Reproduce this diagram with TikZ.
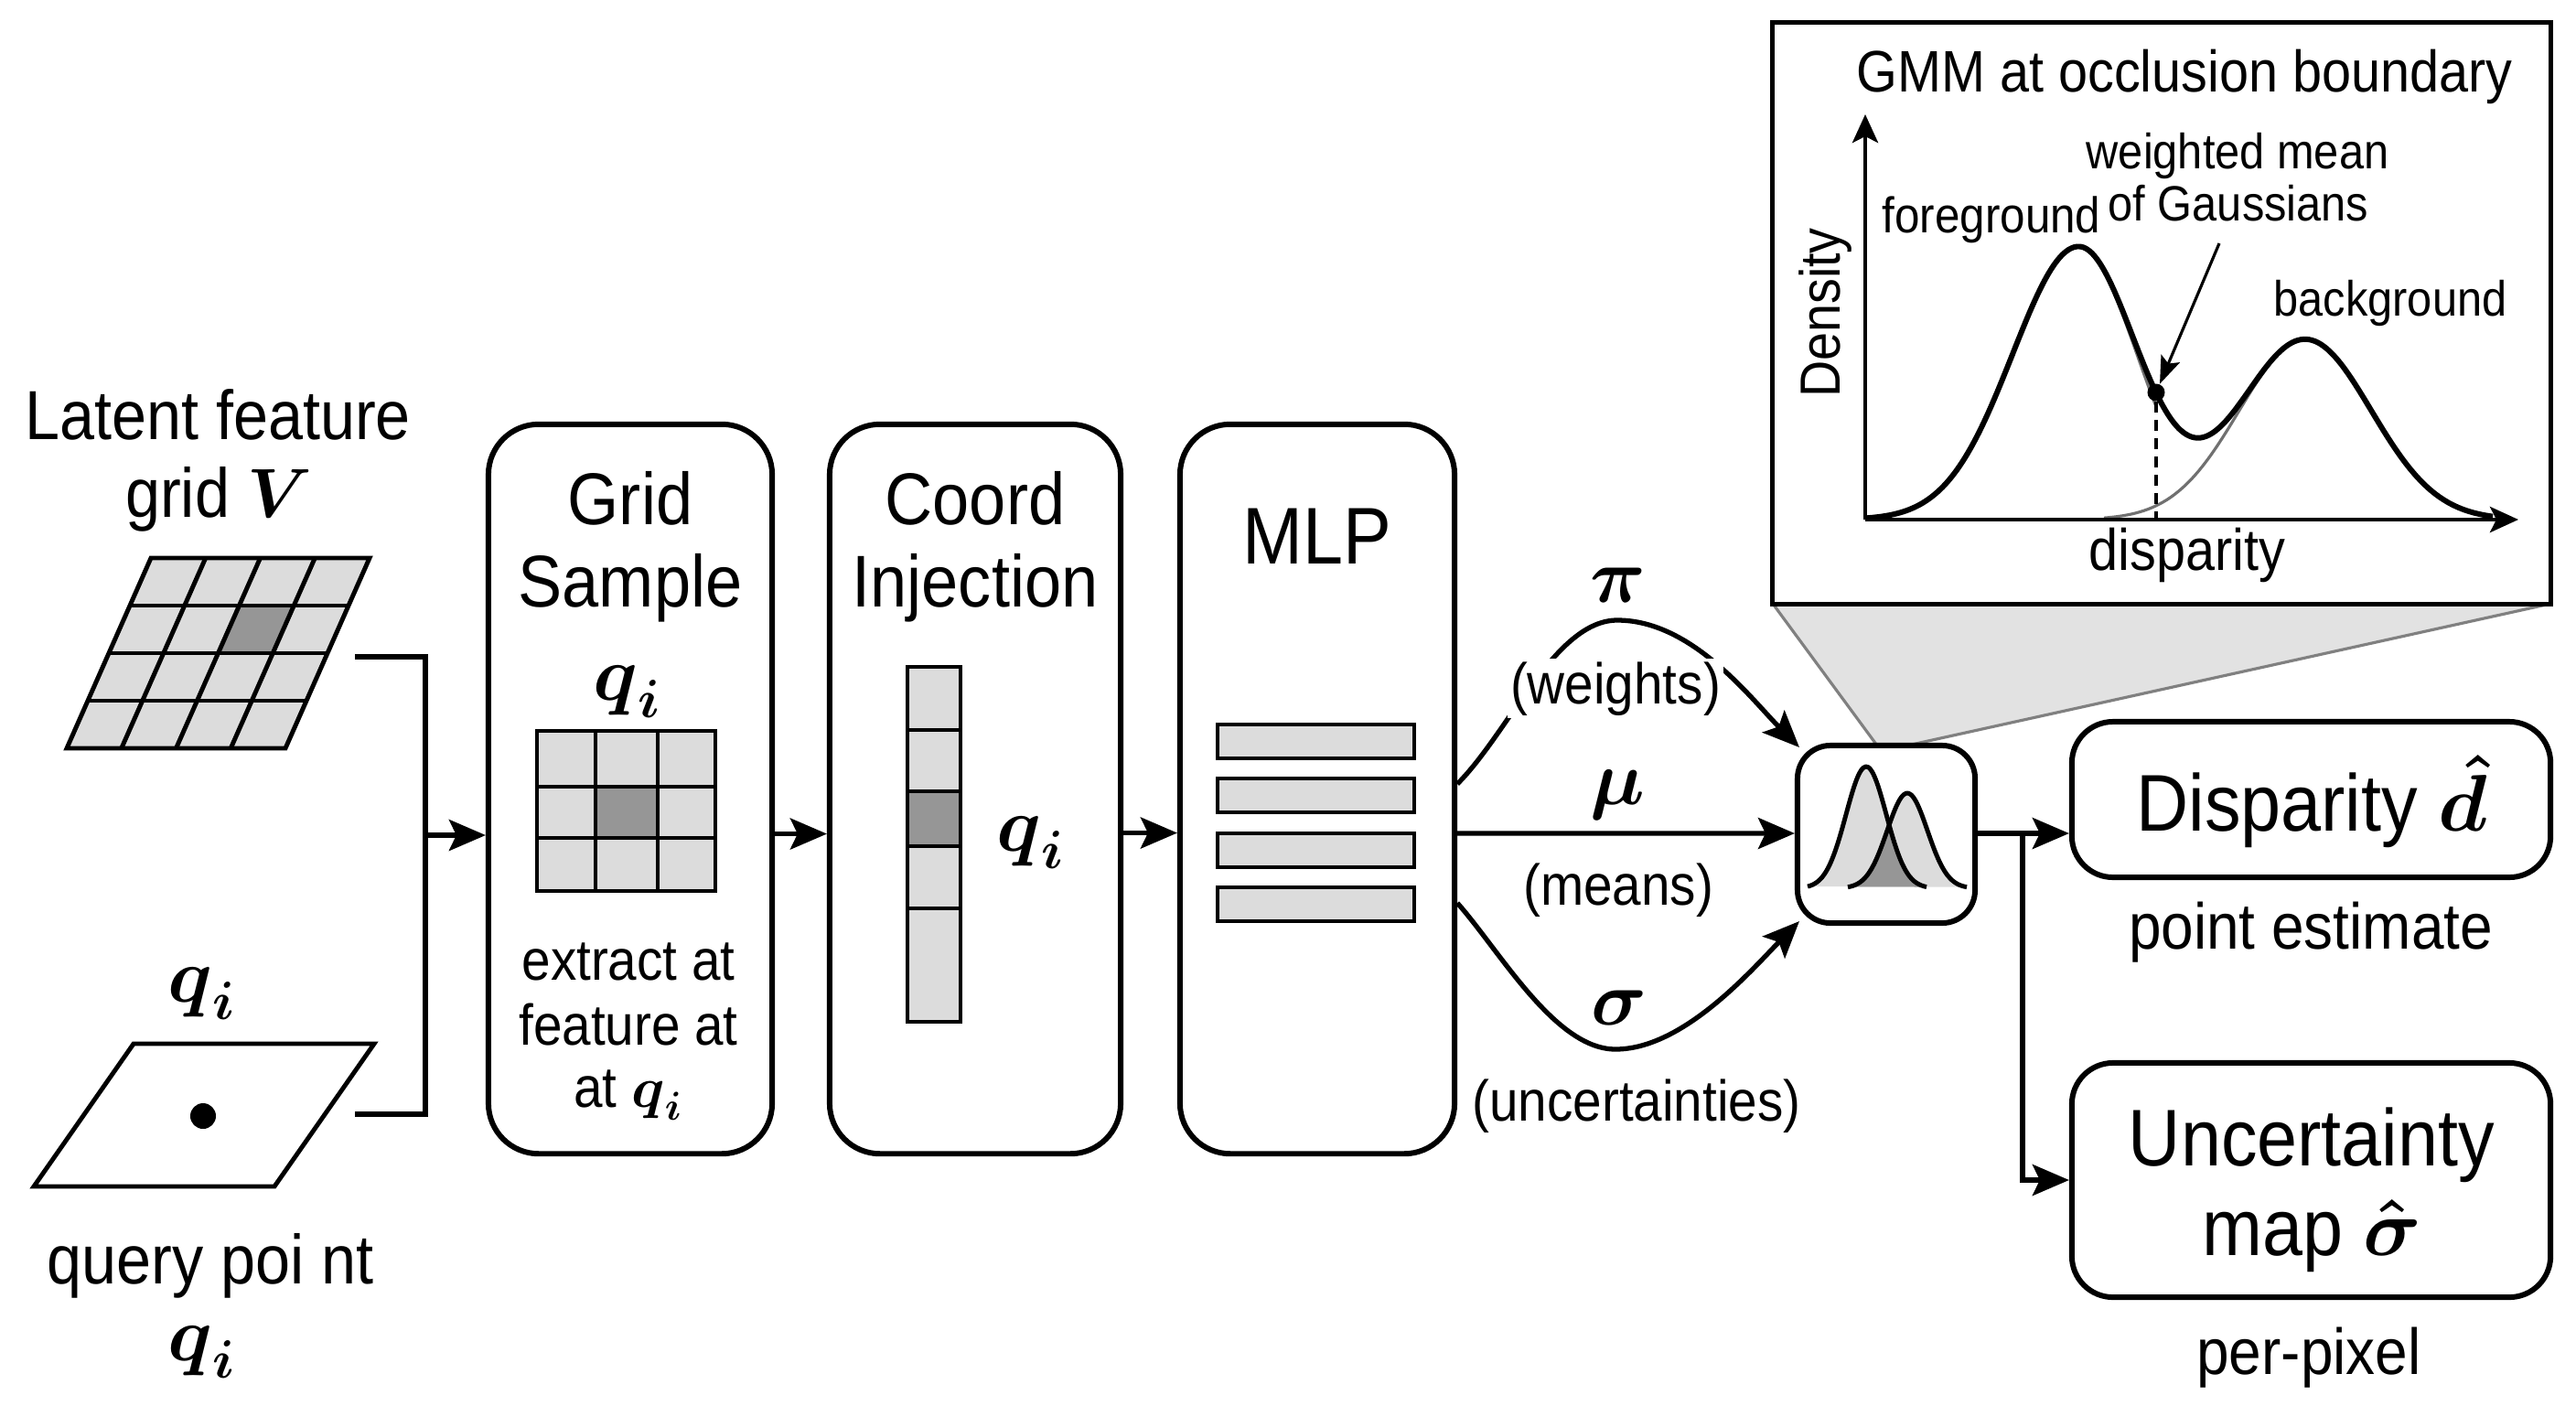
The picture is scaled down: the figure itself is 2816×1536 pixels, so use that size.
\RequirePackage{fix-cm}
\documentclass[tikz,border=0pt]{standalone}
\usepackage{amsmath}
\usepackage{fontspec}
\setmainfont{Liberation Sans}
\newfontfamily\narrowfont[FakeStretch=0.9]{Liberation Sans}
\usetikzlibrary{arrows.meta,calc}
\definecolor{lightc}{HTML}{DCDCDC}
\definecolor{darkc}{HTML}{969696}
\definecolor{projc}{HTML}{E2E2E2}
\definecolor{projl}{HTML}{808080}
\definecolor{curvg}{HTML}{707070}
\newcommand\fsz[1]{\narrowfont\fontsize{#1}{#1}\selectfont}
\newcommand\qi{\boldsymbol{q}_{\boldsymbol{i}}}
\begin{document}
\begin{tikzpicture}[x=0.01cm,y=-0.01cm,
  box/.style={draw, line width=1.7pt, fill=white, inner sep=0pt},
  conn/.style={line width=1.5pt},
  arr/.style={line width=1.5pt, -{Stealth[length=0.40cm,width=0.34cm,inset=0.08cm]}},
  gridl/.style={line width=1.4pt, line join=miter},
  lbl/.style={inner sep=0pt, anchor=base},
  axarr/.style={line width=1.3pt, -{Stealth[length=0.31cm,width=0.28cm,inset=0.07cm]}},
]
\useasboundingbox (0,0) rectangle (2816,1536);
\fill[white] (0,0) rectangle (2816,1536);

% ---------- latent feature grid ----------
\fill[lightc] (73,818) -- (312,818) -- (404,610) -- (165,610) -- cycle;
\fill[darkc] (238.5,714) -- (298.25,714) -- (321.25,662) -- (261.5,662) -- cycle;
\foreach \j in {1,2,3} \draw[gridl] ({73+23*\j},{818-52*\j}) -- ({312+23*\j},{818-52*\j});
\foreach \i in {1,2,3} \draw[gridl] ({73+59.75*\i},818) -- ({165+59.75*\i},610);
\draw[gridl] (73,818) -- (312,818) -- (404,610) -- (165,610) -- cycle;

\node[lbl, font=\fsz{21.6pt}] (lat1) at (238,480) {Latent feature};
\node[lbl, font=\fsz{21.6pt}] (lat2) at (239,565) {grid $\boldsymbol{V}$};

% ---------- query point ----------
\draw[gridl] (146,1141) -- (409,1141) -- (300,1297) -- (37,1297) -- cycle;
\fill (222,1220) circle (0.14cm);
\node[lbl, font=\fsz{24pt}] (qtop) at (221,1095) {$\qi$};
\node[lbl, font=\fsz{21.6pt}] (qp1) at (230,1403) {query poi nt};
\node[lbl, font=\fsz{24pt}] (qp2) at (221,1487) {$\qi$};

% ---------- main boxes ----------
\node[box, rounded corners=0.55cm, minimum width=3.10cm, minimum height=7.97cm] (gs) at (689,862.5) {};
\node[box, rounded corners=0.55cm, minimum width=3.18cm, minimum height=7.97cm] (ci) at (1066,862.5) {};
\node[box, rounded corners=0.55cm, minimum width=3.00cm, minimum height=7.97cm] (mlp) at (1440,862.5) {};

% bracket into grid sample
\coordinate (b1) at (388,718);
\coordinate (b2) at (388,1218);
\coordinate (bj) at (465,913);
\draw[conn] (b1) -- (b1 -| bj) -- (b2 -| bj) -- (b2);
\draw[arr] (bj) -- (bj -| gs.west);

% grid sample content
\node[lbl, font=\fsz{22.8pt}] (gs1) at (689,573) {Grid};
\node[lbl, font=\fsz{22.8pt}] (gs2) at (689,663) {Sample};
\node[lbl, font=\fsz{24pt}] (gsq) at (686,765) {$\qi$};
\fill[lightc] (587,799) rectangle (782,974);
\fill[darkc] (651,860) rectangle (719,916);
\foreach \x in {651,719} \draw[gridl] (\x,799) -- (\x,974);
\foreach \y in {860,916} \draw[gridl] (587,\y) -- (782,\y);
\draw[gridl] (587,799) rectangle (782,974);
\node[lbl, font=\fsz{17.9pt}] (gs3) at (687,1071) {extract at};
\node[lbl, font=\fsz{17.9pt}] (gs4) at (687,1142) {feature at};
\node[lbl, font=\fsz{17.9pt}] (gs5) at (687,1210) {at $\qi$};

% coord injection content
\node[lbl, font=\fsz{22.8pt}] (ci1) at (1066,573) {Coord};
\node[lbl, font=\fsz{22.8pt}] (ci2) at (1066,663) {Injection};
\fill[lightc] (992,729) rectangle (1050,1117);
\fill[darkc] (992,865) rectangle (1050,925);
\foreach \y in {798,865,925,993} \draw[gridl] (992,\y) -- (1050,\y);
\draw[gridl] (992,729) rectangle (1050,1117);
\node[lbl, font=\fsz{24pt}] (ciq) at (1127,930) {$\qi$};

% MLP content
\node[lbl, font=\fsz{25pt}] (mlpt) at (1440,616) {MLP};
\foreach \y in {792,851,911,970} \draw[gridl, fill=lightc] (1331,\y) rectangle (1546,{\y+37});

% arrows between boxes
\draw[arr] ([yshift=-0.49cm]gs.east) -- ([yshift=-0.49cm]ci.west);
\draw[arr] ([yshift=-0.48cm]ci.east) -- ([yshift=-0.48cm]mlp.west);

% ---------- inset ----------
\fill[projc] (1938,660) -- (2788,660) -- (2085,815) -- (2052,815) -- cycle;
\draw[projl, line width=0.9pt] (1938,660) -- (2052,815);
\draw[projl, line width=0.9pt] (2788,660) -- (2085,815);
\node[draw, line width=1.4pt, fill=white, minimum width=8.50cm, minimum height=6.35cm, inner sep=0pt] (inset) at (2363,342.5) {};

\coordinate (ax0) at (2039,568);
\coordinate (axy) at (2039,125);
\coordinate (axx) at (2753,568);
\draw[curvg, line width=0.9pt] plot[domain=2272:2357, samples=30] (\x,{568-298*exp(-0.5*((\x-2272)/64)^2)});
\draw[curvg, line width=0.9pt] plot[domain=2300:2640, samples=80] (\x,{568-197*exp(max(-10,-0.5*((\x-2520)/72)^2))});
\draw[axarr] (ax0) -- (axy);
\draw[axarr] (ax0) -- (axx);
\draw[line width=1.7pt, line join=round] plot[domain=2039:2725, samples=220, smooth] (\x,{568-298*exp(max(-10,-0.5*((\x-2272)/((\x<2272)?72:64))^2))-197*exp(max(-10,-0.5*((\x-2520)/72)^2))});
\node[circle, fill=black, inner sep=0pt, minimum size=0.19cm] (wdot) at (2357,429) {};
\coordinate (xa) at (2357,568);
\draw[line width=0.9pt, dash pattern=on 0.12cm off 0.08cm] (wdot) -- (xa);
\coordinate (wmarr) at (2426,266);
\draw[line width=0.9pt, -{Stealth[length=0.30cm,width=0.22cm,inset=0.06cm]}] (wmarr) -- (wdot);

\node[lbl, font=\fsz{18.2pt}] (ttl) at (2388,100) {GMM at occlusion boundary};
\node[lbl, font=\fsz{15.4pt}] (wm1) at (2446,184) {weighted mean};
\node[lbl, font=\fsz{15.4pt}] (wm2) at (2447,241) {of Gaussians};
\node[lbl, font=\fsz{15.6pt}] (fg) at (2177,254) {foreground};
\node[lbl, font=\fsz{15.4pt}] (bg) at (2613,345) {background};
\node[lbl, font=\fsz{18.2pt}] (xlab) at (2391,623) {disparity};
\node[lbl, font=\fsz{17.6pt}, rotate=90] (ylab) at (2011,342) {Density};

% ---------- GMM small box ----------
\node[box, rounded corners=0.36cm, minimum width=1.94cm, minimum height=1.94cm] (gmm) at (2062,912) {};
\fill[lightc] plot[domain=1976:2106, samples=50] (\x,{971-133*exp(-0.5*((\x-2040)/22)^2)}) -- cycle;
\fill[lightc] plot[domain=2020:2150, samples=50] (\x,{971-104*exp(-0.5*((\x-2085)/22)^2)}) -- cycle;
\begin{scope}
\clip plot[domain=1976:2106, samples=50] (\x,{971-133*exp(-0.5*((\x-2040)/22)^2)}) -- cycle;
\fill[darkc] plot[domain=2020:2150, samples=50] (\x,{971-104*exp(-0.5*((\x-2085)/22)^2)}) -- cycle;
\end{scope}
\draw[line width=1.4pt, line join=round] plot[domain=1976:2106, samples=50, smooth] (\x,{971-133*exp(-0.5*((\x-2040)/22)^2)});
\draw[line width=1.4pt, line join=round] plot[domain=2020:2150, samples=50, smooth] (\x,{971-104*exp(-0.5*((\x-2085)/22)^2)});

% ---------- MLP outputs ----------
\coordinate (o1) at ([yshift=0.055cm]mlp.east);
\coordinate (o2) at ([yshift=-1.245cm]mlp.east);
\coordinate (g1) at ([xshift=0.05cm,yshift=-0.05cm]gmm.north west);
\coordinate (g2) at ([xshift=0.05cm,yshift=0.05cm]gmm.south west);
\draw[arr] (o1) .. controls (1650,800) and (1700,678) .. (1768,678) .. controls (1850,678) and (1915,765) .. (g1);
\draw[arr] ([yshift=-0.485cm]mlp.east) -- ([yshift=0.01cm]gmm.west);
\draw[arr] (o2) .. controls (1640,1040) and (1700,1147) .. (1766,1147) .. controls (1840,1147) and (1915,1060) .. (g2);

\node[lbl, font=\fsz{24pt}] (pi) at (1769,658) {$\boldsymbol{\pi}$};
\node[lbl, font=\fsz{17.9pt}, fill=white, inner sep=0.03cm] (wts) at (1766,769) {(weights)};
\node[lbl, font=\fsz{24pt}] (mu) at (1768,879) {$\boldsymbol{\mu}$};
\node[lbl, font=\fsz{17.9pt}] (mns) at (1769,989) {(means)};
\node[lbl, font=\fsz{24pt}] (sig) at (1770,1120) {$\boldsymbol{\sigma}$};
\node[lbl, font=\fsz{17.9pt}] (uncl) at (1789,1225) {(uncertainties)};

% ---------- outputs ----------
\node[box, rounded corners=0.45cm, minimum width=5.23cm, minimum height=1.70cm] (disp) at (2526.5,874) {};
\node[box, rounded corners=0.45cm, minimum width=5.23cm, minimum height=2.56cm] (unc) at (2526.5,1290) {};
\coordinate (sp) at (2211,911);
\draw[conn] ([yshift=0.01cm]gmm.east) -- (sp);
\draw[arr] (sp) -- (sp -| disp.west);
\draw[arr] (sp) -- (sp |- unc.west) -- (unc.west);

\node[lbl, font=\fsz{25pt}] (dispt) at (2527,908) {Disparity $\boldsymbol{\hat{d}}$};
\node[lbl, font=\fsz{20.2pt}] (pe) at (2526,1037) {point estimate};
\node[lbl, font=\fsz{25pt}] (unc1) at (2527,1274) {Uncertainty};
\node[lbl, font=\fsz{25pt}] (unc2) at (2527,1372) {map $\boldsymbol{\hat{\sigma}}$};
\node[lbl, font=\fsz{20.2pt}] (pp) at (2524,1502) {per-pixel};
\end{tikzpicture}
\end{document}
